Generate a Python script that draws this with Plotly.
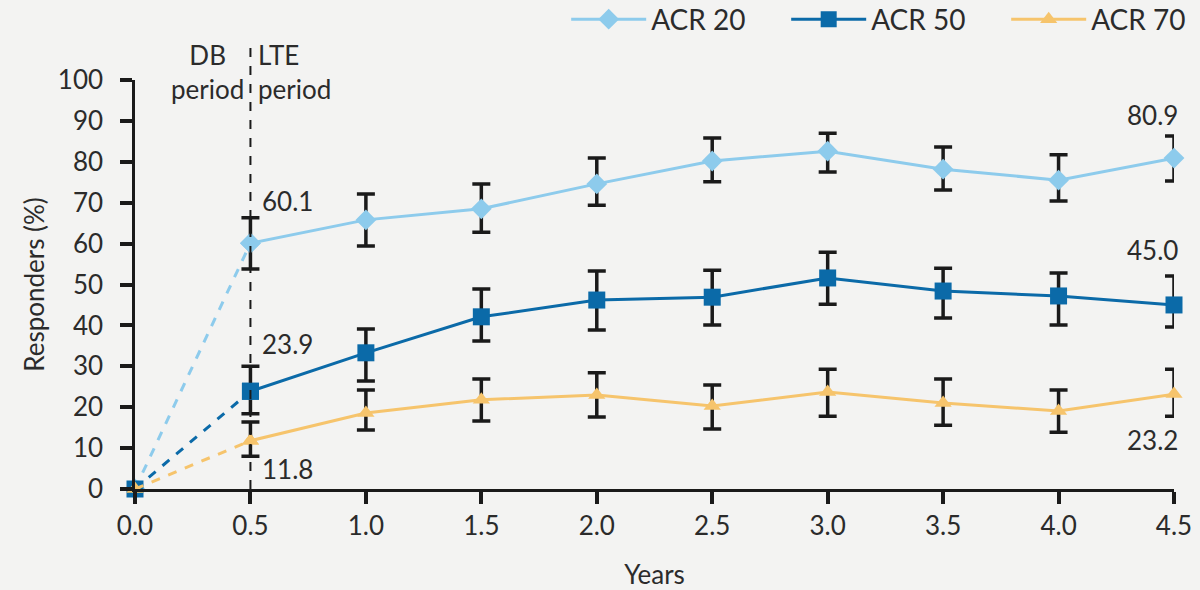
import plotly.graph_objects as go

years = [0.0, 0.5, 1.0, 1.5, 2.0, 2.5, 3.0, 3.5, 4.0, 4.5]

acr20 = [0, 60.1, 65.8, 68.5, 74.6, 80.2, 82.6, 78.2, 75.5, 80.9]
acr20_hi = [0, 66.3, 72.1, 74.6, 80.9, 85.8, 87.0, 83.6, 81.7, 86.3]
acr20_lo = [0, 53.8, 59.4, 62.8, 69.4, 75.1, 77.5, 73.1, 70.4, 75.3]

acr50 = [0, 23.9, 33.3, 42.1, 46.2, 46.9, 51.6, 48.4, 47.2, 45.0]
acr50_hi = [0, 30.0, 39.1, 48.9, 53.3, 53.5, 57.9, 54.0, 52.8, 52.1]
acr50_lo = [0, 18.4, 26.4, 36.2, 38.9, 40.1, 45.2, 41.8, 40.1, 39.6]

acr70 = [0, 11.8, 18.6, 21.8, 23.0, 20.3, 23.7, 21.0, 19.1, 23.2]
acr70_hi = [0, 16.4, 24.2, 26.9, 28.4, 25.4, 29.3, 26.9, 24.2, 29.3]
acr70_lo = [0, 8.0, 14.4, 16.6, 17.6, 14.7, 17.8, 15.6, 13.9, 17.8]

series_names = ["ACR 20", "ACR 50", "ACR 70"]
colors = ["#8dcbec", "#0b6aa8", "#f6c46c"]
symbols = ["diamond", "square", "triangle-up"]
msizes = [16, 17, 15]

tick_vals_y = list(range(0, 101, 10))
tick_vals_x = years
tick_text_x = ["0.0", "0.5", "1.0", "1.5", "2.0", "2.5", "3.0", "3.5", "4.0", "4.5"]

FONT = "Lato"
TXT = "#2b2b2b"
FS = 26

fig = go.Figure()

all_series = [(acr20, acr20_hi, acr20_lo), (acr50, acr50_hi, acr50_lo), (acr70, acr70_hi, acr70_lo)]

for (vals, hi, lo), name, col, sym, ms in zip(all_series, series_names, colors, symbols, msizes):
    # dashed DB period segment
    fig.add_trace(go.Scatter(
        x=years[:2], y=vals[:2], mode="lines+markers",
        line=dict(color=col, width=3, dash="dash"),
        marker=dict(symbol=sym, size=ms, color=col),
        showlegend=False, cliponaxis=False, hoverinfo="skip"))

for (vals, hi, lo), name, col, sym, ms in zip(all_series, series_names, colors, symbols, msizes):
    up = [h - v for h, v in zip(hi[1:], vals[1:])]
    dn = [v - l for v, l in zip(vals[1:], lo[1:])]
    fig.add_trace(go.Scatter(
        x=years[1:], y=vals[1:], mode="lines+markers", name=name,
        line=dict(color=col, width=3),
        marker=dict(symbol=sym, size=ms, color=col),
        error_y=dict(type="data", symmetric=False, array=up, arrayminus=dn,
                     color="#1a1a1a", thickness=3.5, width=9),
        cliponaxis=False))

# vertical dashed divider
fig.add_shape(type="line", xref="x", yref="paper", x0=0.5, x1=0.5, y0=0, y1=1.086,
              line=dict(color="#1a1a1a", width=2, dash="dash"))

ann_font = dict(family=FONT, size=FS, color=TXT)
annots = [
    (0.5, 70.5, "60.1", "left"),
    (0.5, 35.5, "23.9", "left"),
    (0.5, 5.0, "11.8", "left"),
    (4.5, 91.5, "80.9", "right"),
    (4.5, 58.5, "45.0", "right"),
    (4.5, 12.0, "23.2", "right"),
]
for x, y, t, al in annots:
    fig.add_annotation(x=x, y=y, text=t, showarrow=False, font=ann_font,
                       xanchor="left" if al == "left" else "center",
                       xshift=10 if al == "left" else -22)

fig.add_annotation(xref="x", yref="paper", x=0.5, y=1.105, text="DB<br>period", showarrow=False,
                   xanchor="right", yanchor="top", xshift=-4, align="center", font=ann_font)
fig.add_annotation(xref="x", yref="paper", x=0.5, y=1.105, text="LTE<br>period", showarrow=False,
                   xanchor="left", yanchor="top", xshift=6, align="left", font=ann_font)

fig.update_layout(
    width=1200, height=590,
    margin=dict(l=135, r=26, t=80, b=101, autoexpand=False),
    paper_bgcolor="#f3f3f2", plot_bgcolor="#f3f3f2",
    font=dict(family=FONT, color=TXT, size=FS),
    legend=dict(orientation="h", x=0.415, xanchor="left", y=1.148, yanchor="middle",
                font=dict(family=FONT, size=28, color=TXT), bgcolor="rgba(0,0,0,0)",
                itemwidth=75, entrywidth=130, entrywidthmode="pixels", tracegroupgap=0),
    xaxis=dict(range=[0, 4.5], tickvals=tick_vals_x, ticktext=tick_text_x,
               showgrid=False, zeroline=False, showline=True, linecolor="#1a1a1a", linewidth=2.5,
               ticks="outside", ticklen=12, tickwidth=3.5, tickcolor="#1a1a1a",
               tickfont=dict(family=FONT, size=FS, color=TXT),
               title=dict(text="Years", font=dict(family=FONT, size=FS, color=TXT), standoff=26)),
    yaxis=dict(range=[0, 100], tickvals=tick_vals_y,
               showgrid=False, zeroline=False, showline=True, linecolor="#1a1a1a", linewidth=2.5,
               ticks="outside", ticklen=12, tickwidth=3.5, tickcolor="#1a1a1a",
               ticklabelstandoff=12,
               tickfont=dict(family=FONT, size=FS, color=TXT),
               title=dict(text="Responders (%)", font=dict(family=FONT, size=FS, color=TXT), standoff=6)),
)

fig.write_html("out.html", config={"displayModeBar": False},
               post_script="document.body.style.margin='0';document.body.style.overflow='hidden';")
